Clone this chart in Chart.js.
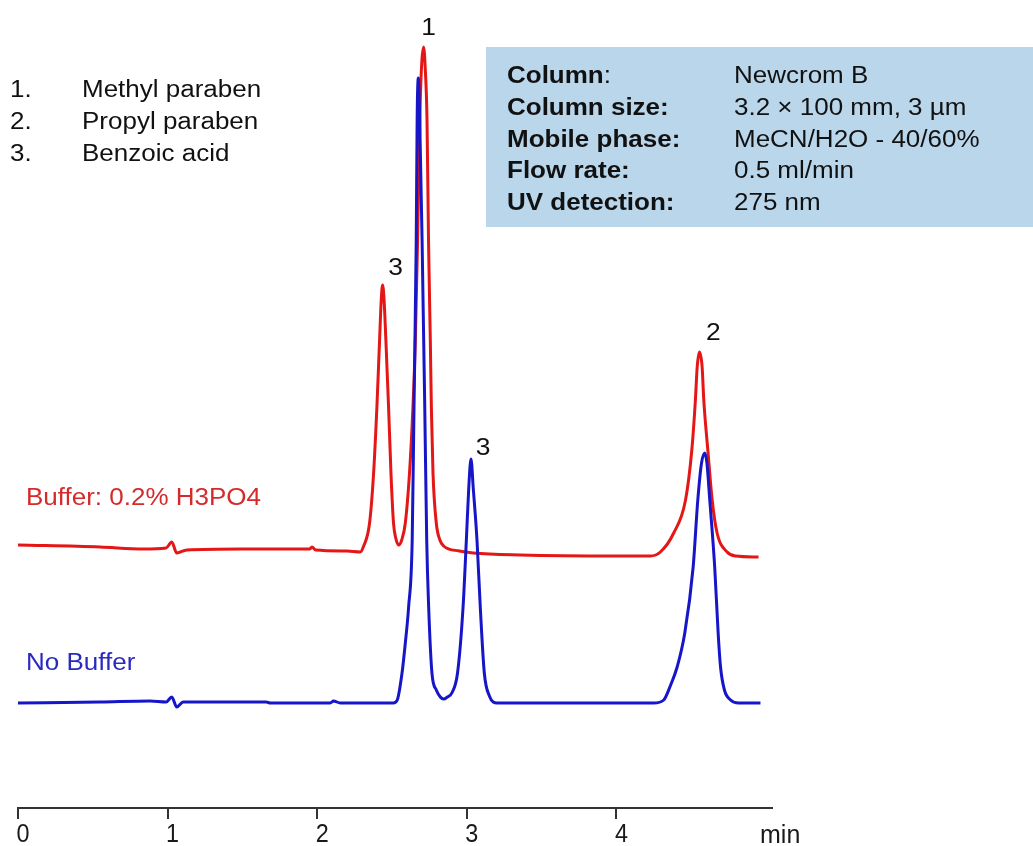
<!DOCTYPE html>
<html><head><meta charset="utf-8">
<script src="https://cdn.jsdelivr.net/npm/chart.js@4"></script>
<style>html,body{margin:0;padding:0;background:#fff;}#wrap{width:1033px;height:846px;position:relative;}</style>
</head><body><div id="wrap"><canvas id="c"></canvas></div>
<script>
// ---- data (time in min, detector signal in arbitrary units) ----
const timeRange = [0, 5.04];
const tickValues = [0, 1, 2, 3, 4];
const tickLabels = ['0', '1', '2', '3', '4'];
const axisUnit = 'min';

const seriesNames = ['Buffer: 0.2% H3PO4', 'No Buffer'];

const bufferTimes = [0,0.548,0.836,0.99,1.028,1.061,1.128,1.5,1.95,1.965,1.99,2.2,2.288,2.308,2.35,2.377,2.399,2.417,2.428,2.437,2.447,2.459,2.477,2.493,2.51,2.525,2.544,2.565,2.589,2.617,2.64,2.656,2.671,2.689,2.700,2.711,2.722,2.734,2.744,2.756,2.763,2.774,2.796,2.82,2.845,2.95,3.043,3.358,4.0,4.227,4.294,4.383,4.462,4.504,4.528,4.540,4.555,4.573,4.584,4.611,4.64,4.673,4.74,4.796,4.95];
const bufferValues = [263,261,259,260,266,255,258,259,259,261,258,257,256,261,285,335,401,468,508,523,508,468,401,335,285,270,263,268,285,335,401,468,568,708,748,761,740,688,568,468,401,335,285,268,262,257,255,253,252,252,256,275,308,358,408,441,456,441,408,358,308,275,256,252,251];

const noBufferTimes = [0,0.548,0.883,0.99,1.028,1.061,1.104,1.659,1.686,2.087,2.109,2.154,2.508,2.535,2.567,2.589,2.611,2.635,2.647,2.662,2.668,2.676,2.685,2.701,2.719,2.732,2.745,2.767,2.796,2.823,2.845,2.870,2.9,2.938,2.975,2.997,3.013,3.028,3.043,3.068,3.090,3.117,3.151,3.202,3.6,4.0,4.25,4.316,4.36,4.406,4.457,4.513,4.544,4.569,4.591,4.605,4.624,4.657,4.680,4.696,4.722,4.763,4.816,4.963];
const noBufferValues = [105,106,107,106,111,101,106,106,105,105,107,105,105,108,135,165,201,268,400,568,688,730,690,568,400,268,201,135,118,111,109,111,115,135,201,268,320,349,320,268,201,135,112,105,105,105,105,108,122,141,175,241,308,345,355,345,308,241,175,141,118,108,105,105];

const compoundNumbers = ['1.', '2.', '3.'];
const compoundNames = ['Methyl paraben', 'Propyl paraben', 'Benzoic acid'];

const conditionLabels = ['Column', 'Column size:', 'Mobile phase:', 'Flow rate:', 'UV detection:'];
const conditionValues = ['Newcrom B', '3.2 \u00d7 100 mm, 3 \u00b5m', 'MeCN/H2O - 40/60%', '0.5 ml/min', '275 nm'];

const peakTexts = ['1', '3', '3', '2'];
const peakTimes = [2.711, 2.437, 3.028, 4.555];
const peakValues = [761, 523, 349, 456];

// ---- styles ----
const RED = '#e41616';
const BLUE = '#1616c8';
const FONT = '"Liberation Sans", Arial, sans-serif';
const peakOffsets = [[5, -12], [13, -10], [12, -4], [14, -12]];

function txt(ctx, s, x, y, o) {
  o = o || {};
  ctx.save();
  ctx.font = (o.weight || 'normal') + ' ' + (o.size || 23) + 'px ' + FONT;
  ctx.fillStyle = o.color || '#111';
  ctx.textBaseline = 'alphabetic';
  ctx.textAlign = o.align || 'left';
  ctx.translate(x, y);
  ctx.scale(o.sx || 1.13, 1);
  ctx.fillText(s, 0, 0);
  const w = ctx.measureText(s).width * (o.sx || 1.13);
  ctx.restore();
  return w;
}

const decor = {
  id: 'decor',
  beforeDatasetsDraw(chart) {
    const ctx = chart.ctx;
    ctx.save();
    ctx.fillStyle = '#b9d6ea';
    ctx.fillRect(486, 47, 1033 - 486, 180);
    ctx.restore();
  },
  afterDraw(chart) {
    const ctx = chart.ctx;
    const xs = chart.scales.x, ys = chart.scales.y;
    tickValues.forEach((v, i) => {
      txt(ctx, tickLabels[i], xs.getPixelForValue(v) + 5, 842, {size: 26, sx: 0.9, align: 'center', color: '#1a1a1a'});
    });
    txt(ctx, axisUnit, 760, 843, {size: 25, sx: 1.0, color: '#1a1a1a'});
    compoundNumbers.forEach((n, i) => {
      txt(ctx, n, 10, 97 + i * 32);
      txt(ctx, compoundNames[i], 82, 97 + i * 32);
    });
    conditionLabels.forEach((l, i) => {
      const y = 83 + i * 31.8;
      const w = txt(ctx, l, 507, y, {weight: 'bold'});
      if (i === 0) txt(ctx, ':', 507 + w, y);
      txt(ctx, conditionValues[i], 734, y);
    });
    txt(ctx, seriesNames[0], 26, 505, {color: '#d42a2a'});
    txt(ctx, seriesNames[1], 26, 670, {color: '#2a2ac0'});
    peakTexts.forEach((p, i) => {
      const x = xs.getPixelForValue(peakTimes[i]) + peakOffsets[i][0];
      const y = ys.getPixelForValue(peakValues[i]) + peakOffsets[i][1];
      txt(ctx, p, x, y, {size: 24, sx: 1.1, align: 'center'});
    });
  }
};

const toXY = (ts, vs) => ts.map((t, i) => ({x: t, y: vs[i]}));

new Chart(document.getElementById('c'), {
  type: 'line',
  data: {
    datasets: [
      {label: seriesNames[1], data: toXY(noBufferTimes, noBufferValues), borderColor: BLUE, borderWidth: 3, pointRadius: 0, cubicInterpolationMode: 'monotone', fill: false},
      {label: seriesNames[0], data: toXY(bufferTimes, bufferValues), borderColor: RED, borderWidth: 3, pointRadius: 0, cubicInterpolationMode: 'monotone', fill: false}
    ]
  },
  options: {
    responsive: true, maintainAspectRatio: false, animation: false,
    layout: {padding: {left: 18, right: 261, top: 0, bottom: 0}},
    plugins: {legend: {display: false}, tooltip: {enabled: false}},
    scales: {
      x: {
        type: 'linear', min: timeRange[0], max: timeRange[1],
        afterBuildTicks: s => { s.ticks = tickValues.map(v => ({value: v})); },
        afterFit: s => { s.height = 38; },
        ticks: {display: false},
        grid: {display: true, drawOnChartArea: false, drawTicks: true, tickLength: 11, color: '#333', lineWidth: 2},
        border: {display: true, color: '#333', width: 2}
      },
      y: {display: false, min: 0, max: 808}
    }
  },
  plugins: [decor]
});
</script></body></html>
